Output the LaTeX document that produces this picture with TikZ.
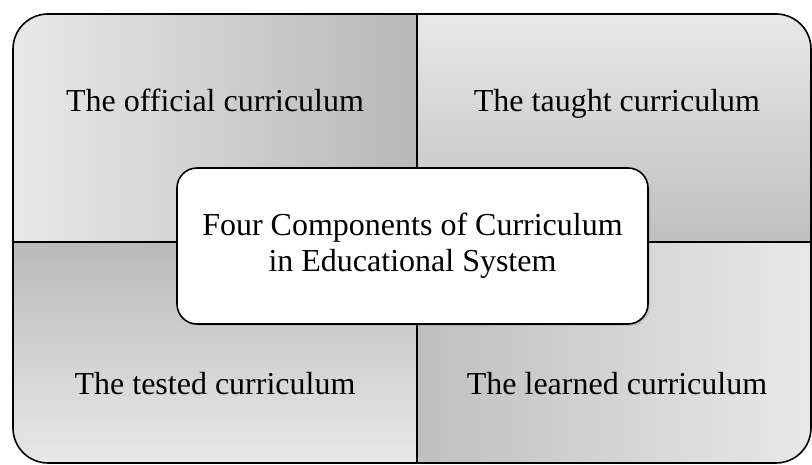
\documentclass[tikz,border=0pt]{standalone}
\usepackage{fontspec}
\setmainfont{Liberation Serif}
\usepackage{xcolor}
\usetikzlibrary{shadows}

\begin{document}
\begin{tikzpicture}[x=1pt,y=1pt,node distance=402pt,
  quad/.style={draw=black,line width=1.6pt},
  label node/.style={font=\fontsize{32}{36}\selectfont,text height=23pt,text depth=7pt},
  main node/.style={rounded corners=20pt,draw=black,fill=white,line width=1.6pt,
    minimum width=471pt,minimum height=156pt,align=center,font=\fontsize{32}{36}\selectfont,
    drop shadow={opacity=0.25,shadow xshift=2pt,shadow yshift=-2pt}}]
    \useasboundingbox (0,0) rectangle (812,465);

    % four quadrants
    \draw[quad,left color=black!9,right color=black!28]
        (417,223) -- (13,223) -- (13,416) arc[start angle=180,end angle=90,radius=35] -- (417,451) -- cycle;
    \draw[quad,top color=black!9,bottom color=black!25]
        (417,223) -- (417,451) -- (776,451) arc[start angle=90,end angle=0,radius=35] -- (811,223) -- cycle;
    \draw[quad,top color=black!27,bottom color=black!9]
        (417,223) -- (13,223) -- (13,37) arc[start angle=180,end angle=270,radius=35] -- (417,2) -- cycle;
    \draw[quad,left color=black!25,right color=black!9]
        (417,223) -- (811,223) -- (811,37) arc[start angle=0,end angle=-90,radius=35] -- (417,2) -- cycle;

    \node[label node] (official) at (215,361) {The official curriculum};
    \node[label node] (taught) [right of=official] {The taught curriculum};
    \node[label node] (tested) [below of=official,node distance=283pt] {The tested curriculum};
    \node[label node] (learned) [right of=tested] {The learned curriculum};

    \node[main node] (title) at (412.5,219) {Four Components of Curriculum\\in Educational System};
\end{tikzpicture}
\end{document}
